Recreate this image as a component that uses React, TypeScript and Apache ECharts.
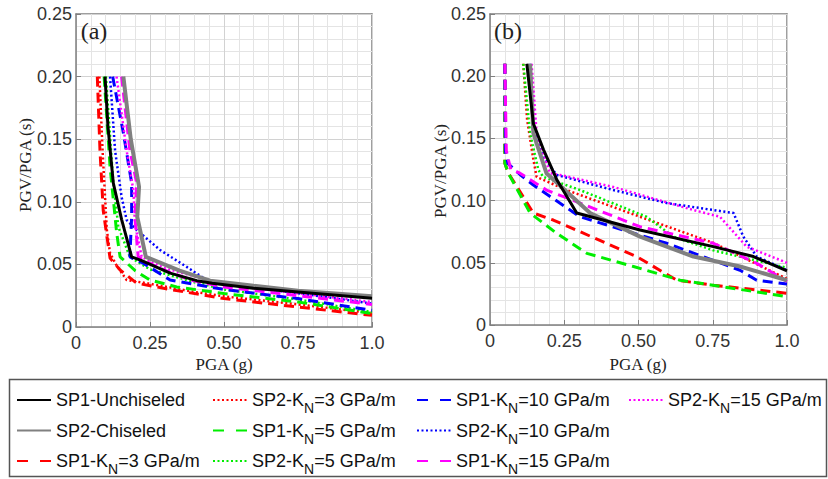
import React, { useEffect, useRef } from "react";
import * as echarts from "echarts";

// ---------- Data: panel (a) [PGA (g), PGV/PGA (s)] ----------
const aSP1Unchiseled = [[0.098, 0.200], [0.108, 0.160], [0.126, 0.115], [0.154, 0.086], [0.188, 0.056], [0.222, 0.053], [0.318, 0.043], [0.408, 0.037], [0.46, 0.035], [0.60, 0.031], [0.75, 0.028], [1.0, 0.023]];
const aSP2Chiseled = [[0.160, 0.200], [0.185, 0.150], [0.213, 0.112], [0.207, 0.088], [0.236, 0.056], [0.35, 0.045], [0.453, 0.037], [0.60, 0.033], [0.75, 0.029], [1.0, 0.0245]];
const aSP1K3 = [[0.072, 0.200], [0.081, 0.141], [0.092, 0.093], [0.115, 0.055], [0.149, 0.0455], [0.205, 0.035], [0.318, 0.030], [0.50, 0.0227], [0.75, 0.016], [1.0, 0.0093]];
const aSP2K3 = [[0.079, 0.200], [0.090, 0.140], [0.104, 0.078], [0.115, 0.059], [0.135, 0.050], [0.171, 0.0375], [0.239, 0.035], [0.40, 0.028], [0.50, 0.0245], [0.75, 0.018], [1.0, 0.0112]];
const aSP1K5 = [[0.095, 0.200], [0.115, 0.128], [0.1375, 0.075], [0.149, 0.056], [0.20, 0.045], [0.25, 0.0375], [0.34, 0.032], [0.50, 0.0267], [0.75, 0.020], [1.0, 0.0107]];
const aSP2K5 = [[0.101, 0.200], [0.126, 0.115], [0.143, 0.080], [0.182, 0.056], [0.25, 0.046], [0.397, 0.036], [0.50, 0.030], [0.75, 0.022], [1.0, 0.012]];
const aSP1K10 = [[0.124, 0.200], [0.160, 0.155], [0.188, 0.115], [0.188, 0.088], [0.182, 0.056], [0.227, 0.051], [0.318, 0.0375], [0.50, 0.030], [0.75, 0.0227], [1.0, 0.0133]];
const aSP2K10 = [[0.115, 0.200], [0.132, 0.141], [0.154, 0.104], [0.171, 0.0855], [0.205, 0.0775], [0.284, 0.0615], [0.374, 0.048], [0.441, 0.0375], [0.50, 0.0346], [0.75, 0.027], [1.0, 0.0187]];
const aSP1K15 = [[0.154, 0.200], [0.182, 0.141], [0.205, 0.115], [0.199, 0.088], [0.210, 0.056], [0.272, 0.048], [0.385, 0.0375], [0.50, 0.032], [0.75, 0.025], [1.0, 0.018]];
const aSP2K15 = [[0.137, 0.200], [0.171, 0.141], [0.194, 0.109], [0.199, 0.083], [0.222, 0.056], [0.30, 0.047], [0.453, 0.037], [0.60, 0.031], [0.75, 0.027], [1.0, 0.020]];

// ---------- Data: panel (b) ----------
const bSP1Unchiseled = [[0.124, 0.210], [0.146, 0.162], [0.180, 0.141], [0.2245, 0.117], [0.292, 0.090], [0.505, 0.0764], [0.752, 0.063], [0.887, 0.055], [1.0, 0.0435]];
const bSP2Chiseled = [[0.135, 0.210], [0.146, 0.154], [0.190, 0.122], [0.337, 0.090], [0.505, 0.071], [0.685, 0.055], [0.842, 0.047], [1.0, 0.036]];
const bSP1K3 = [[0.050, 0.210], [0.050, 0.130], [0.062, 0.122], [0.146, 0.090], [0.213, 0.0844], [0.494, 0.055], [0.629, 0.036], [0.752, 0.032], [1.0, 0.0255]];
const bSP2K3 = [[0.112, 0.210], [0.125, 0.165], [0.146, 0.133], [0.157, 0.119], [0.258, 0.1085], [0.505, 0.087], [0.752, 0.066], [1.0, 0.037]];
const bSP1K5 = [[0.050, 0.210], [0.050, 0.130], [0.062, 0.122], [0.135, 0.090], [0.2245, 0.0737], [0.326, 0.0576], [0.483, 0.047], [0.640, 0.036], [1.0, 0.0228]];
const bSP2K5 = [[0.112, 0.210], [0.135, 0.154], [0.163, 0.1245], [0.180, 0.119], [0.303, 0.1085], [0.527, 0.087], [0.617, 0.071], [0.752, 0.060], [1.0, 0.046]];
const bSP1K10 = [[0.050, 0.210], [0.052, 0.140], [0.060, 0.130], [0.101, 0.121], [0.146, 0.1125], [0.303, 0.087], [0.595, 0.0657], [0.842, 0.044], [0.898, 0.036], [1.0, 0.033]];
const bSP2K10 = [[0.135, 0.210], [0.152, 0.154], [0.180, 0.135], [0.2245, 0.1206], [0.415, 0.1085], [0.595, 0.098], [0.820, 0.090], [0.853, 0.071], [0.898, 0.055], [1.0, 0.044]];
const bSP1K15 = [[0.050, 0.210], [0.055, 0.140], [0.070, 0.125], [0.101, 0.122], [0.190, 0.1085], [0.303, 0.098], [0.505, 0.079], [0.752, 0.0657], [0.898, 0.0496], [1.0, 0.035]];
const bSP2K15 = [[0.140, 0.210], [0.157, 0.154], [0.202, 0.122], [0.236, 0.1206], [0.415, 0.111], [0.685, 0.0924], [0.774, 0.087], [0.864, 0.063], [1.0, 0.050]];

// ---------- Labels ----------
const seriesNames = [
  "SP1-Unchiseled", "SP2-Chiseled",
  "SP1-KN=3 GPa/m", "SP2-KN=3 GPa/m",
  "SP1-KN=5 GPa/m", "SP2-KN=5 GPa/m",
  "SP1-KN=10 GPa/m", "SP2-KN=10 GPa/m",
  "SP1-KN=15 GPa/m", "SP2-KN=15 GPa/m",
];
const panelAData = [aSP1Unchiseled, aSP2Chiseled, aSP1K3, aSP2K3, aSP1K5, aSP2K5, aSP1K10, aSP2K10, aSP1K15, aSP2K15];
const panelBData = [bSP1Unchiseled, bSP2Chiseled, bSP1K3, bSP2K3, bSP1K5, bSP2K5, bSP1K10, bSP2K10, bSP1K15, bSP2K15];
const xTickLabels = ["0", "0.25", "0.50", "0.75", "1.0"];
const yTickLabels = ["0", "0.05", "0.10", "0.15", "0.20", "0.25"];
const legendColumns = [
  ["SP1-Unchiseled", "SP2-Chiseled", "SP1-KN=3 GPa/m"],
  ["SP2-KN=3 GPa/m", "SP1-KN=5 GPa/m", "SP2-KN=5 GPa/m"],
  ["SP1-KN=10 GPa/m", "SP2-KN=10 GPa/m", "SP1-KN=15 GPa/m"],
  ["SP2-KN=15 GPa/m"],
];

const SANS = "'Liberation Sans', Arial, sans-serif";
const SERIF = "'Liberation Serif', 'Times New Roman', serif";
const DASH = [10, 6];
const DOT = [2, 2.5];
const LEGEND_DASH = [11, 12];

const styleFor = (name: string) => {
  const map: Record<string, any> = {
    "SP1-Unchiseled": { color: "#000000", type: "solid", width: 3 },
    "SP2-Chiseled": { color: "#808080", type: "solid", width: 4 },
    "SP1-KN=3 GPa/m": { color: "#ff0000", type: DASH, width: 3 },
    "SP2-KN=3 GPa/m": { color: "#ff0000", type: DOT, width: 2.5 },
    "SP1-KN=5 GPa/m": { color: "#00ee00", type: DASH, width: 3 },
    "SP2-KN=5 GPa/m": { color: "#00ee00", type: DOT, width: 2.5 },
    "SP1-KN=10 GPa/m": { color: "#0000ff", type: DASH, width: 3 },
    "SP2-KN=10 GPa/m": { color: "#0000ff", type: DOT, width: 2.5 },
    "SP1-KN=15 GPa/m": { color: "#ff00ff", type: DASH, width: 3 },
    "SP2-KN=15 GPa/m": { color: "#ff00ff", type: DOT, width: 2.5 },
  };
  return map[name];
};

const drawOrder = [2, 3, 4, 5, 6, 7, 8, 9, 1, 0];

function axisPair(gridIndex: number, isX: boolean) {
  const frame = { show: true, onZero: false, lineStyle: { color: "#7f7f7f", width: 1.5 } };
  const tick = { show: true, inside: true, length: 5, lineStyle: { color: "#7f7f7f", width: 1 } };
  const base = isX
    ? { min: 0, max: 1, interval: 0.25 }
    : { min: 0, max: 0.25, interval: 0.05 };
  const labels = isX ? xTickLabels : yTickLabels;
  const step = isX ? 0.25 : 0.05;
  const main = {
    gridIndex,
    type: "value",
    ...base,
    position: isX ? "bottom" : "left",
    axisLine: frame,
    axisTick: tick,
    axisLabel: {
      show: true,
      margin: isX ? 7 : 4,
      fontFamily: SANS,
      fontSize: 18,
      color: "#333333",
      formatter: (v: number) => labels[Math.round(v / step)] ?? "",
    },
    splitLine: { show: true, lineStyle: { color: "#d2d2d2", width: 1 } },
    minorTick: { show: false, splitNumber: 5 },
    minorSplitLine: { show: true, lineStyle: { color: "#e4e4e4", width: 1 } },
    z: 1,
  };
  const mirror = {
    gridIndex,
    type: "value",
    ...base,
    position: isX ? "top" : "right",
    axisLine: frame,
    axisTick: tick,
    axisLabel: { show: false },
    splitLine: { show: false },
  };
  return [main, mirror];
}

function legendLabel(name: string) {
  const i = name.indexOf("KN");
  if (i < 0) return `{m|${name}}{s| }`;
  return `{m|${name.slice(0, i + 1)}}{s|N}{m|${name.slice(i + 2)}}`;
}

export default function App() {
  const ref = useRef<HTMLDivElement>(null);
  useEffect(() => {
    if (!ref.current) return;
    const chart = echarts.init(ref.current, null, { renderer: "svg" });

    const series: any[] = [];
    [panelAData, panelBData].forEach((panel, p) => {
      drawOrder.forEach((k) => {
        const st = styleFor(seriesNames[k]);
        series.push({
          type: "line",
          name: seriesNames[k],
          xAxisIndex: p * 2,
          yAxisIndex: p * 2,
          data: panel[k],
          symbol: "none",
          showSymbol: false,
          clip: true,
          color: st.color,
          itemStyle: { opacity: 0 },
          lineStyle: { color: st.color, type: st.type, width: st.width, cap: "butt" },
          z: 3,
        });
      });
    });

    const legends = legendColumns.map((col, c) => ({
      orient: "vertical",
      left: [16, 212, 416, 628][c],
      top: 385,
      padding: 0,
      itemGap: 0.5,
      itemWidth: 34,
      itemHeight: 14,
      selectedMode: false,
      data: col.map((name) =>
        styleFor(name).type === DASH ? { name, lineStyle: { type: LEGEND_DASH } } : { name }
      ),
      formatter: legendLabel,
      itemStyle: { opacity: 0 },
      textStyle: {
        color: "#111111",
        lineHeight: 30,
        rich: {
          m: { fontFamily: SANS, fontSize: 18, lineHeight: 30, verticalAlign: "middle", color: "#111111" },
          s: { fontFamily: SANS, fontSize: 14, lineHeight: 16, padding: [14, 0, 0, 0], verticalAlign: "bottom", color: "#111111" },
        },
      },
    }));

    const txt = (text: string, x: number, y: number, size: number, rot = 0) => ({
      type: "text",
      x,
      y,
      rotation: rot,
      z: 10,
      style: { text, fontFamily: SERIF, fontSize: size, fill: "#222222", align: "center", verticalAlign: "middle" },
    });

    chart.setOption({
      animation: false,
      backgroundColor: "#ffffff",
      grid: [
        { left: 76, top: 14, width: 296, height: 313 },
        { left: 490, top: 14, width: 297, height: 311 },
      ],
      xAxis: [...axisPair(0, true), ...axisPair(1, true)],
      yAxis: [...axisPair(0, false), ...axisPair(1, false)],
      legend: legends,
      series,
      graphic: [
        txt("PGV/PGA (s)", 25, 165, 17, Math.PI / 2),
        txt("PGV/PGA (s)", 440, 171, 17, Math.PI / 2),
        txt("PGA (g)", 224, 364, 17),
        txt("PGA (g)", 638, 364, 17),
        txt("(a)", 94, 31, 24),
        txt("(b)", 508, 31, 24),
        {
          type: "rect",
          z: 0,
          shape: { x: 9.5, y: 379.5, width: 817, height: 97 },
          style: { fill: "none", stroke: "#555555", lineWidth: 1.5 },
        },
      ],
    });
    return () => chart.dispose();
  }, []);
  return <div ref={ref} style={{ position: "absolute", left: 0, top: 0, width: 828, height: 479 }} />;
}
